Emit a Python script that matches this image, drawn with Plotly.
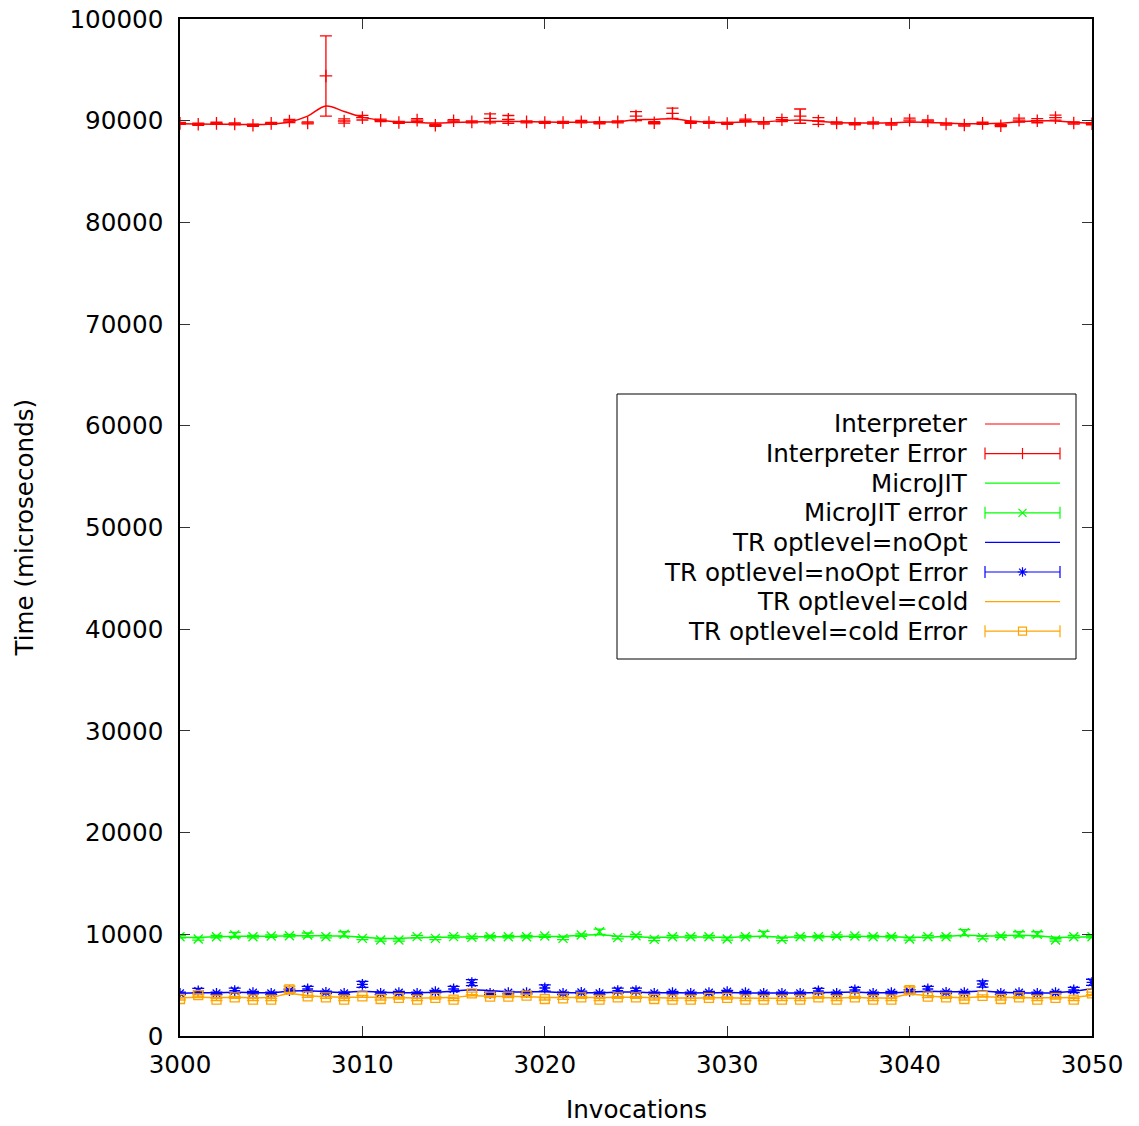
import plotly.graph_objects as go

# Invocation numbers
invocations = list(range(3000, 3051))

# Interpreter: smoothed timing curve and per-invocation mean with error
interp_line = [89700, 89680, 89660, 89640, 89620, 89680, 89880, 90450, 91450, 90900,
               90350, 90050, 89880, 89830, 89780, 89820, 89880, 89920, 89940, 89900,
               89860, 89850, 89850, 89860, 89900, 90100, 90120, 90200, 89980, 89850,
               89830, 89880, 89900, 90000, 90080, 89950, 89820, 89780, 89780, 89800,
               89860, 89830, 89760, 89700, 89700, 89760, 89900, 89980, 89980, 89850, 89750]
interp_mean = [89740, 89650, 89740, 89680, 89550, 89740, 89970, 89780, 94400, 89970,
               90300, 90030, 89830, 90060, 89550, 89990, 89880, 90230, 90130, 89880,
               89830, 89830, 89900, 89800, 89880, 90450, 89800, 90730, 89830, 89830,
               89730, 90030, 89770, 90100, 90450, 89970, 89770, 89700, 89770, 89670,
               90060, 89970, 89670, 89570, 89740, 89510, 90060, 90000, 90300, 89770, 89700]
interp_err = [100, 100, 110, 100, 100, 100, 150, 100, 3950, 200,
              230, 120, 100, 150, 100, 120, 100, 450, 380, 100,
              100, 100, 120, 100, 100, 450, 100, 500, 100, 100,
              100, 120, 100, 200, 700, 330, 100, 100, 100, 100,
              200, 120, 100, 100, 110, 100, 200, 200, 250, 100, 100]

# MicroJIT
mjit_line = [9700, 9700, 9760, 9800, 9800, 9820, 9840, 9860, 9840, 9830,
             9700, 9600, 9600, 9680, 9700, 9730, 9740, 9760, 9770, 9780,
             9790, 9820, 9900, 9950, 9820, 9760, 9700, 9720, 9740, 9730,
             9700, 9760, 9800, 9720, 9740, 9760, 9790, 9800, 9780, 9760,
             9700, 9720, 9800, 9900, 9850, 9850, 9900, 9850, 9700, 9720, 9750]
mjit_mean = [9767, 9540, 9767, 9930, 9767, 9830, 9860, 9930, 9767, 10000,
             9600, 9440, 9440, 9770, 9600, 9770, 9700, 9767, 9767, 9767,
             9830, 9600, 9930, 10250, 9670, 9860, 9500, 9767, 9767, 9767,
             9540, 9767, 10030, 9500, 9767, 9767, 9830, 9830, 9767, 9767,
             9540, 9767, 9767, 10160, 9670, 9830, 10000, 10000, 9440, 9767, 9767]
mjit_err = [120, 120, 120, 250, 120, 120, 120, 200, 120, 250,
            120, 120, 120, 120, 120, 120, 120, 120, 120, 120,
            120, 120, 120, 250, 120, 120, 120, 120, 120, 120,
            120, 120, 250, 120, 120, 120, 120, 120, 120, 120,
            120, 120, 120, 300, 120, 120, 250, 250, 120, 120, 120]

# TR optlevel=noOpt
noopt_line = [4200, 4250, 4250, 4300, 4280, 4250, 4420, 4450, 4350, 4280,
              4400, 4300, 4260, 4250, 4300, 4420, 4550, 4450, 4350, 4330,
              4350, 4280, 4250, 4250, 4320, 4320, 4260, 4250, 4240, 4250,
              4280, 4250, 4220, 4220, 4230, 4270, 4280, 4320, 4260, 4250,
              4320, 4400, 4350, 4350, 4420, 4300, 4250, 4230, 4260, 4400, 4650]
noopt_mean = [4196, 4425, 4196, 4458, 4262, 4196, 4458, 4622, 4294, 4196,
              5080, 4196, 4262, 4196, 4360, 4622, 5245, 4196, 4262, 4262,
              4720, 4196, 4294, 4196, 4458, 4458, 4196, 4262, 4196, 4262,
              4360, 4262, 4196, 4196, 4196, 4425, 4196, 4524, 4196, 4262,
              4400, 4622, 4294, 4262, 5113, 4196, 4262, 4196, 4262, 4524, 5278]
noopt_err = [120, 250, 120, 250, 120, 120, 150, 250, 120, 120,
             300, 120, 120, 120, 120, 250, 300, 120, 120, 120,
             300, 120, 120, 120, 250, 250, 120, 120, 120, 120,
             120, 120, 120, 120, 120, 250, 120, 250, 120, 120,
             150, 250, 120, 120, 300, 120, 120, 120, 120, 250, 300]

# TR optlevel=cold
cold_line = [3750, 3800, 3780, 3780, 3770, 3800, 4150, 3950, 3850, 3800,
             3820, 3780, 3760, 3740, 3760, 3800, 3950, 3900, 3880, 3870,
             3800, 3780, 3790, 3780, 3800, 3800, 3760, 3730, 3730, 3750,
             3760, 3730, 3720, 3720, 3720, 3760, 3750, 3780, 3740, 3760,
             4100, 3950, 3830, 3780, 3850, 3800, 3790, 3750, 3760, 3800, 4000]
cold_mean = [3640, 4030, 3570, 3800, 3570, 3570, 4590, 3900, 3800, 3570,
             3900, 3640, 3740, 3570, 3740, 3570, 4196, 3870, 3870, 3965,
             3640, 3700, 3800, 3570, 3800, 3800, 3640, 3570, 3570, 3740,
             3740, 3570, 3570, 3570, 3570, 3800, 3570, 3800, 3570, 3570,
             4520, 3870, 3800, 3640, 3950, 3640, 3800, 3570, 3740, 3570, 4196]
cold_err = [100, 100, 100, 100, 100, 100, 300, 100, 100, 100,
            100, 100, 100, 100, 100, 100, 120, 100, 100, 150,
            100, 100, 100, 100, 100, 100, 100, 100, 100, 100,
            100, 100, 100, 100, 100, 100, 100, 100, 100, 100,
            300, 100, 100, 100, 100, 100, 100, 100, 100, 100, 120]

# Axis ticks
x_ticks = [3000, 3010, 3020, 3030, 3040, 3050]
y_ticks = [0, 10000, 20000, 30000, 40000, 50000, 60000, 70000, 80000, 90000, 100000]

series = [
    ("Interpreter", "Interpreter Error", "#ff0000", "cross-thin-open",
     interp_line, interp_mean, interp_err),
    ("MicroJIT", "MicroJIT error", "#00ff00", "x-thin-open",
     mjit_line, mjit_mean, mjit_err),
    ("TR optlevel=noOpt", "TR optlevel=noOpt Error", "#0000ff", "asterisk-open",
     noopt_line, noopt_mean, noopt_err),
    ("TR optlevel=cold", "TR optlevel=cold Error", "#ffa500", "square-open",
     cold_line, cold_mean, cold_err),
]

FONT = "DejaVu Sans"
FS = 24.6

fig = go.Figure()
for name, err_name, color, symbol, line_vals, mean_vals, err_vals in series:
    fig.add_trace(go.Scatter(
        x=invocations, y=line_vals, mode="lines", name=name,
        line=dict(color=color, width=1.5, shape="spline", smoothing=1.0),
        showlegend=False, hoverinfo="skip"))
    fig.add_trace(go.Scatter(
        x=invocations, y=mean_vals, mode="markers", name=err_name,
        marker=dict(symbol=symbol, size=9, color=color, line=dict(color=color, width=1.3)),
        error_y=dict(type="data", array=err_vals, visible=True,
                     color=color, thickness=1.3, width=6),
        showlegend=False))

# Key box in the upper right, gnuplot style: right-aligned text, sample on the right
PLOT_L, PLOT_R, PLOT_T, PLOT_B = 180, 1092, 19, 1036
PW, PH = PLOT_R - PLOT_L, PLOT_B - PLOT_T


def px_x(px):
    return (px - PLOT_L) / PW


def px_y(py):
    return (PLOT_B - py) / PH


shapes = [dict(type="rect", xref="paper", yref="paper",
               x0=px_x(617), x1=px_x(1076), y0=px_y(659), y1=px_y(394),
               line=dict(color="black", width=1), fillcolor="rgba(0,0,0,0)")]
annotations = []
key_rows = []
for name, err_name, color, symbol, *_ in series:
    key_rows.append((name, color, None))
    key_rows.append((err_name, color, symbol))

row0, row_step = 424, 29.6
s0, s1 = 985, 1060
cap = 6 / PH
key_mx, key_my, key_sym, key_col = [], [], [], []
for i, (label, color, symbol) in enumerate(key_rows):
    ry = px_y(row0 + i * row_step)
    annotations.append(dict(
        text=label, xref="paper", yref="paper", x=px_x(970), y=ry,
        xanchor="right", yanchor="middle", showarrow=False,
        font=dict(family=FONT, size=FS, color="black")))
    shapes.append(dict(type="line", xref="paper", yref="paper",
                       x0=px_x(s0), x1=px_x(s1), y0=ry, y1=ry,
                       line=dict(color=color, width=1.2)))
    if symbol is not None:
        for sx in (s0, s1):
            shapes.append(dict(type="line", xref="paper", yref="paper",
                               x0=px_x(sx), x1=px_x(sx), y0=ry - cap, y1=ry + cap,
                               line=dict(color=color, width=1.2)))
        key_mx.append(px_x((s0 + s1) / 2))
        key_my.append(ry)
        key_sym.append("line-ns-open" if symbol == "cross-thin-open" else symbol)
        key_col.append(color)

fig.add_trace(go.Scatter(
    x=key_mx, y=key_my, mode="markers", xaxis="x2", yaxis="y2",
    marker=dict(symbol=key_sym, size=8, color=key_col,
                line=dict(color=key_col, width=1.2)),
    showlegend=False, hoverinfo="skip"))

# Axis titles
annotations.append(dict(text="Time (microseconds)", xref="paper", yref="paper",
                        x=px_x(24), y=0.5, textangle=-90, showarrow=False,
                        xanchor="center", yanchor="middle",
                        font=dict(family=FONT, size=FS, color="black")))
annotations.append(dict(text="Invocations", xref="paper", yref="paper",
                        x=0.5, y=px_y(1109), showarrow=False,
                        xanchor="center", yanchor="middle",
                        font=dict(family=FONT, size=FS, color="black")))

axis_common = dict(showline=True, linecolor="black", linewidth=1.5, mirror="ticks",
                   ticks="inside", ticklen=10, tickwidth=1.2, tickcolor="#333",
                   showgrid=False, zeroline=False, automargin=False,
                   tickformat="d",
                   tickfont=dict(family=FONT, size=FS, color="black"))

fig.update_layout(
    width=1139, height=1126,
    margin=dict(l=PLOT_L, r=1139 - PLOT_R, t=PLOT_T, b=1126 - PLOT_B, autoexpand=False),
    paper_bgcolor="white", plot_bgcolor="white",
    showlegend=False,
    xaxis=dict(range=[3000, 3050], tickvals=x_ticks,
               ticklabelstandoff=6, **axis_common),
    yaxis=dict(range=[0, 100000], tickvals=y_ticks,
               ticklabelstandoff=10, **axis_common),
    xaxis2=dict(range=[0, 1], overlaying="x", visible=False, fixedrange=True),
    yaxis2=dict(range=[0, 1], overlaying="y", visible=False, fixedrange=True),
    shapes=shapes, annotations=annotations,
    font=dict(family=FONT, size=FS, color="black"),
)

fig.write_html("out.html")
